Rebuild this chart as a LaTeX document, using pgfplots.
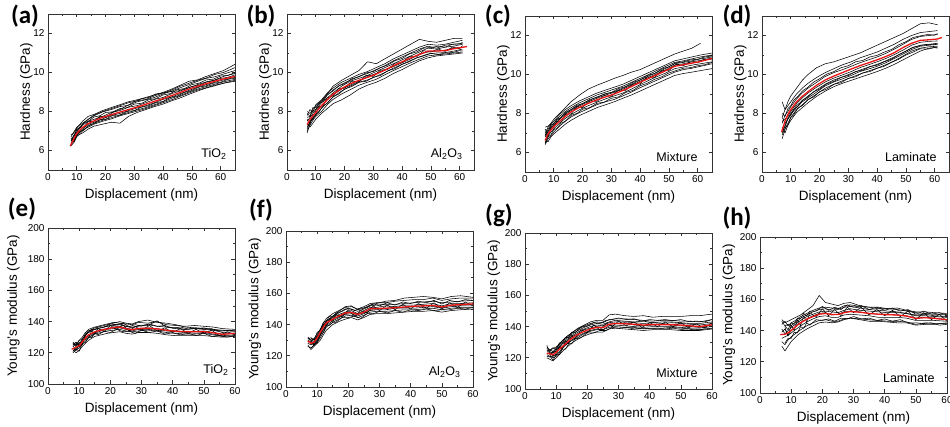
\documentclass[border=0pt]{standalone}
\usepackage{pgfplots}
\pgfplotsset{compat=1.18}
\usepackage{fontspec}
\setmainfont{Liberation Sans}
\newfontfamily\panelfont{Carlito}
\definecolor{meanred}{RGB}{235,20,20}
\tikzset{blk/.style={black, line width=0.55pt, line join=round},
  mean/.style={meanred, line width=1.3pt, line join=round},
  lab/.style={font=\fontsize{12.5}{13}\selectfont, anchor=south east}}
\pgfplotsset{
  base/.style={scale only axis, width=187pt, height=156pt, xmin=0,
    axis line style={line width=0.7pt, black!80},
    tick align=inside, xtick pos=both, ytick pos=both,
    xticklabel pos=lower, yticklabel pos=left,
    major tick length=3.5pt, minor tick length=2pt,
    every tick/.style={black!80, line width=0.6pt},
    xtick={0,10,...,60}, minor x tick num=1,
    /pgf/number format/assume math mode=true,
    tick label style={font=\fontsize{10}{11}\selectfont},
    label style={font=\fontsize{13.5}{14}\selectfont},
    xlabel={Displacement (nm)},
    xlabel style={at={(axis description cs:0.5,-0.16)}, anchor=center},
  },
  hard/.style={base, xmax=65, ymin=5, ymax=13, ytick={6,8,10,12},
    minor y tick num=1, ylabel={Hardness (GPa)},
    ylabel style={at={(axis description cs:-0.115,0.5)}, anchor=center}},
  mod/.style={base, xmax=60, ymin=100, ymax=200, ytick={100,120,...,200},
    minor y tick num=1, ylabel={Young's modulus (GPa)},
    ylabel style={at={(axis description cs:-0.166,0.5)}, anchor=center}},
}
\begin{document}
\begin{tikzpicture}
\useasboundingbox (0,0) rectangle (950pt,427pt);
% (a)
\begin{axis}[hard, at={(48pt,257pt)}, anchor=south west]
\addplot[blk] coordinates {(8,6.8)(9,6.9)(10,7.15)(12,7.5)(14,7.75)(16,7.85)(19,8.05)(22,8.2)(25,8.35)(28,8.5)(31,8.6)(34,8.72)(37,8.85)(40,8.98)(43,9.15)(46,9.35)(49,9.55)(52,9.62)(55,9.8)(58,9.95)(61,10.1)(65,10.42)};
\addplot[blk] coordinates {(8,6.6)(9,6.75)(10,7.05)(12,7.35)(14,7.6)(16,7.78)(19,7.98)(22,8.1)(25,8.25)(28,8.32)(31,8.5)(34,8.6)(37,8.72)(40,8.9)(43,9.05)(46,9.22)(49,9.38)(52,9.55)(55,9.7)(58,9.78)(61,9.92)(65,10.1)};
\addplot[blk] coordinates {(8,6.45)(9,6.8)(10,6.95)(12,7.3)(14,7.5)(16,7.6)(19,7.75)(22,7.95)(25,8.05)(28,8.22)(31,8.3)(34,8.45)(37,8.62)(40,8.72)(43,8.92)(46,9.05)(49,9.22)(52,9.38)(55,9.52)(58,9.62)(61,9.8)(65,9.95)};
\addplot[blk] coordinates {(8,6.3)(9,6.5)(10,6.8)(12,7.1)(14,7.35)(16,7.45)(19,7.62)(22,7.8)(25,7.9)(28,8.05)(31,8.18)(34,8.3)(37,8.45)(40,8.62)(43,8.75)(46,8.92)(49,9.08)(52,9.25)(55,9.38)(58,9.5)(61,9.62)(65,9.75)};
\addplot[blk] coordinates {(8,6.25)(9,6.4)(10,6.7)(12,7.0)(14,7.25)(16,7.4)(19,7.55)(22,7.68)(25,7.82)(28,7.95)(31,8.08)(34,8.2)(37,8.35)(40,8.5)(43,8.68)(46,8.82)(49,9.0)(52,9.15)(55,9.28)(58,9.4)(61,9.52)(65,9.65)};
\addplot[blk] coordinates {(8,6.5)(9,6.6)(10,6.75)(12,6.9)(14,7.1)(16,7.25)(19,7.35)(22,7.45)(25,7.4)(28,7.75)(31,7.95)(34,8.1)(37,8.25)(40,8.38)(43,8.55)(46,8.7)(49,8.88)(52,9.05)(55,9.2)(58,9.32)(61,9.45)(65,9.55)};
\addplot[blk] coordinates {(8,6.35)(9,6.55)(10,6.9)(12,7.05)(14,7.2)(16,7.35)(19,7.5)(22,7.62)(25,7.78)(28,7.9)(31,8.02)(34,8.15)(37,8.3)(40,8.45)(43,8.6)(46,8.78)(49,8.95)(52,9.1)(55,9.22)(58,9.35)(61,9.45)(65,9.6)};
\addplot[blk] coordinates {(8,6.7)(9,6.95)(10,7.2)(12,7.4)(14,7.6)(16,7.82)(19,8.0)(22,8.15)(25,8.3)(28,8.45)(31,8.55)(34,8.62)(37,8.8)(40,8.95)(43,9.1)(46,9.3)(49,9.45)(52,9.6)(55,9.72)(58,9.9)(61,10.0)(65,10.25)};
\addplot[blk] coordinates {(8,6.5)(9,6.7)(10,7.1)(11,7.15)(12.5,7.42)(14,7.5)(16,7.72)(18,7.78)(20,7.95)(22.5,7.98)(25,8.15)(27.5,8.2)(30,8.38)(32.5,8.42)(35,8.6)(37.5,8.66)(40,8.85)(42.5,8.92)(45,9.12)(47.5,9.18)(50,9.38)(52.5,9.45)(55,9.62)(57.5,9.66)(60,9.82)(62.5,9.85)(65,10.0)};
\addplot[blk] coordinates {(8,6.4)(9,6.45)(10,6.8)(11,6.95)(12.5,7.05)(14,7.3)(16,7.38)(18,7.58)(20,7.6)(22.5,7.8)(25,7.82)(27.5,8.0)(30,8.05)(32.5,8.22)(35,8.3)(37.5,8.45)(40,8.52)(42.5,8.72)(45,8.8)(47.5,8.98)(50,9.08)(52.5,9.25)(55,9.32)(57.5,9.45)(60,9.5)(62.5,9.65)(65,9.7)};
\addplot[blk] coordinates {(8,6.6)(9,6.5)(10,6.95)(11,7.2)(12.5,7.2)(14,7.48)(16,7.5)(18,7.75)(20,7.7)(22.5,7.95)(25,8.1)(27.5,8.3)(30,8.5)(32.5,8.65)(35,8.72)(37.5,8.9)(40,8.95)(42.5,9.02)(45,9.05)(47.5,9.15)(50,9.28)(52.5,9.35)(55,9.5)(57.5,9.58)(60,9.7)(62.5,9.75)(65,9.88)};
\addplot[mean] coordinates {(7.7,6.22)(9,6.6)(10,6.88)(12,7.18)(14,7.38)(16,7.52)(19,7.7)(22,7.84)(25,7.97)(28,8.1)(31,8.23)(34,8.37)(37,8.52)(40,8.66)(43,8.82)(46,8.98)(49,9.15)(52,9.3)(55,9.43)(58,9.55)(61,9.67)(65,9.8)};
\node[lab] at (rel axis cs:1,0) [xshift=-5pt, yshift=7pt] {TiO\textsubscript{2}};
\end{axis}
% (b)
\begin{axis}[hard, at={(287pt,257pt)}, anchor=south west]
\addplot[blk] coordinates {(7,8.0)(8,7.9)(9,8.1)(10,8.3)(12,8.55)(14,8.9)(16,9.3)(19,9.6)(22,9.85)(25,10.1)(28,10.55)(31,10.45)(34,10.7)(37,10.95)(40,11.2)(43,11.45)(46,11.7)(49,11.6)(52,11.55)(55,11.65)(58,11.75)(61,11.75)};
\addplot[blk] coordinates {(7,7.8)(8,8.1)(9,7.95)(10,8.35)(12,8.6)(14,8.95)(16,9.2)(19,9.5)(22,9.7)(25,9.9)(28,10.05)(31,10.25)(34,10.45)(37,10.7)(40,10.9)(43,11.1)(46,11.3)(49,11.45)(52,11.4)(55,11.45)(58,11.55)(61,11.65)};
\addplot[blk] coordinates {(7,7.5)(8,7.7)(9,7.9)(10,8.1)(12,8.45)(14,8.7)(16,8.95)(19,9.3)(22,9.55)(25,9.7)(28,9.85)(31,10.05)(34,10.25)(37,10.45)(40,10.65)(43,10.85)(46,11.05)(49,11.25)(52,11.2)(55,11.3)(58,11.35)(61,11.45)};
\addplot[blk] coordinates {(7,7.2)(8,7.5)(9,7.65)(10,7.85)(12,8.15)(14,8.45)(16,8.75)(19,9.05)(22,9.3)(25,9.5)(28,9.62)(31,9.8)(34,10.0)(37,10.22)(40,10.42)(43,10.62)(46,10.8)(49,10.95)(52,11.0)(55,11.02)(58,11.1)(61,11.2)};
\addplot[blk] coordinates {(7,7.0)(8,7.3)(9,7.55)(10,7.75)(12,8.0)(14,8.35)(16,8.62)(19,8.9)(22,9.12)(25,9.35)(28,9.5)(31,9.65)(34,9.88)(37,10.1)(40,10.3)(43,10.5)(46,10.68)(49,10.85)(52,10.9)(55,10.95)(58,11.0)(61,11.05)};
\addplot[blk] coordinates {(7,7.4)(8,7.2)(9,7.4)(10,7.6)(12,7.9)(14,8.15)(16,8.4)(19,8.6)(22,8.85)(25,9.15)(28,9.35)(31,9.5)(34,9.7)(37,9.95)(40,10.15)(43,10.38)(46,10.6)(49,10.75)(52,10.85)(55,10.9)(58,10.95)(61,11.0)};
\addplot[blk] coordinates {(7,6.9)(8,7.4)(9,7.7)(10,8.05)(12,8.3)(14,8.6)(16,8.85)(19,9.15)(22,9.35)(25,9.55)(28,9.8)(31,9.95)(34,10.15)(37,10.3)(40,10.5)(43,10.7)(46,10.95)(49,11.05)(52,11.1)(55,11.15)(58,11.25)(61,11.3)};
\addplot[blk] coordinates {(7,7.9)(8,7.75)(9,8.2)(10,8.2)(12,8.5)(14,8.85)(16,9.1)(19,9.4)(22,9.6)(25,9.8)(28,9.95)(31,10.15)(34,10.35)(37,10.6)(40,10.8)(43,11.0)(46,11.2)(49,11.35)(52,11.25)(55,11.4)(58,11.45)(61,11.5)};
\addplot[blk] coordinates {(7,7.7)(8,7.75)(9,8.05)(10,8.1)(11,8.4)(12.5,8.5)(14,8.85)(16,9.05)(18,9.32)(20,9.42)(22.5,9.68)(25,9.78)(27.5,9.98)(30,10.05)(32.5,10.25)(35,10.38)(37.5,10.6)(40,10.72)(42.5,10.95)(45,11.05)(47.5,11.25)(50,11.28)(52.5,11.35)(55,11.3)(57.5,11.45)(60,11.45)(61,11.55)};
\addplot[blk] coordinates {(7,7.1)(8,7.5)(9,7.6)(10,7.85)(11,7.95)(12.5,8.3)(14,8.42)(16,8.75)(18,8.9)(20,9.15)(22.5,9.28)(25,9.5)(27.5,9.55)(30,9.75)(32.5,9.85)(35,10.08)(37.5,10.2)(40,10.42)(42.5,10.55)(45,10.75)(47.5,10.85)(50,10.98)(52.5,10.92)(55,11.0)(57.5,11.02)(60,11.12)(61,11.1)};
\addplot[blk] coordinates {(7,7.6)(8,7.35)(9,7.85)(10,7.8)(11,8.25)(12.5,8.3)(14,8.7)(16,8.8)(18,9.18)(20,9.2)(22.5,9.55)(25,9.52)(27.5,9.85)(30,9.8)(32.5,10.12)(35,10.15)(37.5,10.48)(40,10.5)(42.5,10.82)(45,10.8)(47.5,11.12)(50,11.05)(52.5,11.2)(55,11.08)(57.5,11.3)(60,11.22)(61,11.38)};
\addplot[mean] coordinates {(7,7.33)(8,7.6)(9,7.78)(10,7.95)(12,8.3)(14,8.6)(16,8.88)(19,9.18)(22,9.42)(25,9.6)(28,9.75)(31,9.92)(34,10.12)(37,10.35)(40,10.55)(43,10.75)(46,10.92)(49,11.1)(52,11.1)(55,11.12)(58,11.22)(62.5,11.33)};
\node[lab] at (rel axis cs:1,0) [xshift=-8pt, yshift=7pt] {Al\textsubscript{2}O\textsubscript{3}};
\end{axis}
% (c)
\begin{axis}[hard, at={(525pt,255pt)}, anchor=south west]
\addplot[blk] coordinates {(7,7.3)(8,7.35)(9,7.5)(10,7.7)(12,8.0)(14,8.3)(16,8.6)(19,8.95)(22,9.25)(25,9.45)(28,9.62)(31,9.8)(34,9.95)(37,10.12)(40,10.25)(43,10.45)(46,10.65)(49,10.85)(52,11.05)(55,11.2)(58,11.35)(61,11.6)};
\addplot[blk] coordinates {(7,7.0)(8,7.3)(9,7.45)(10,7.6)(12,7.95)(14,8.2)(16,8.4)(19,8.65)(22,8.85)(25,9.05)(28,9.2)(31,9.35)(34,9.5)(37,9.7)(40,9.9)(43,10.1)(46,10.3)(49,10.5)(52,10.7)(55,10.8)(58,10.9)(61,11.0)(65,11.1)};
\addplot[blk] coordinates {(7,6.8)(8,7.1)(9,7.3)(10,7.5)(12,7.75)(14,8.0)(16,8.2)(19,8.45)(22,8.65)(25,8.85)(28,9.0)(31,9.12)(34,9.3)(37,9.5)(40,9.72)(43,9.92)(46,10.12)(49,10.32)(52,10.55)(55,10.62)(58,10.7)(61,10.8)(65,10.9)};
\addplot[blk] coordinates {(7,6.5)(8,6.85)(9,7.05)(10,7.2)(12,7.5)(14,7.75)(16,7.95)(19,8.2)(22,8.4)(25,8.58)(28,8.75)(31,8.9)(34,9.05)(37,9.25)(40,9.48)(43,9.7)(46,9.9)(49,10.08)(52,10.3)(55,10.38)(58,10.48)(61,10.55)(65,10.65)};
\addplot[blk] coordinates {(7,6.4)(8,6.7)(9,6.85)(10,7.05)(12,7.35)(14,7.6)(16,7.82)(19,8.05)(22,8.25)(25,8.45)(28,8.6)(31,8.72)(34,8.9)(37,9.1)(40,9.32)(43,9.52)(46,9.72)(49,9.92)(52,10.12)(55,10.25)(58,10.32)(61,10.42)(65,10.55)};
\addplot[blk] coordinates {(7,6.6)(8,6.55)(9,6.8)(10,6.95)(12,7.2)(14,7.45)(16,7.65)(19,7.9)(22,8.1)(25,8.3)(28,8.45)(31,8.6)(34,8.78)(37,8.95)(40,9.15)(43,9.35)(46,9.55)(49,9.75)(52,9.95)(55,10.05)(58,10.12)(61,10.2)(65,10.3)};
\addplot[blk] coordinates {(7,7.2)(8,6.9)(9,7.25)(10,7.4)(12,7.7)(14,7.95)(16,8.15)(19,8.4)(22,8.6)(25,8.78)(28,8.95)(31,9.08)(34,9.25)(37,9.45)(40,9.65)(43,9.85)(46,10.05)(49,10.25)(52,10.48)(55,10.55)(58,10.65)(61,10.72)(65,10.85)};
\addplot[blk] coordinates {(7,6.9)(8,7.2)(9,7.4)(10,7.5)(12,7.85)(14,8.1)(16,8.3)(19,8.55)(22,8.75)(25,8.95)(28,9.1)(31,9.25)(34,9.4)(37,9.6)(40,9.8)(43,10.0)(46,10.22)(49,10.42)(52,10.62)(55,10.7)(58,10.8)(61,10.9)(65,11.0)};
\addplot[blk] coordinates {(7,6.9)(8,7.05)(9,7.4)(10,7.45)(11,7.7)(12.5,7.78)(14,8.05)(16,8.2)(18,8.42)(20,8.5)(22.5,8.72)(25,8.82)(27.5,9.0)(30,9.08)(32.5,9.28)(35,9.38)(37.5,9.6)(40,9.72)(42.5,9.95)(45,10.05)(47.5,10.28)(50,10.4)(52.5,10.6)(55,10.65)(57.5,10.75)(60,10.78)(62.5,10.9)(65,10.95)};
\addplot[blk] coordinates {(7,6.45)(8,6.8)(9,6.9)(10,7.18)(11,7.22)(12.5,7.5)(14,7.6)(16,7.9)(18,8.0)(20,8.22)(22.5,8.3)(25,8.52)(27.5,8.58)(30,8.78)(32.5,8.85)(35,9.08)(37.5,9.18)(40,9.42)(42.5,9.55)(45,9.75)(47.5,9.88)(50,10.08)(52.5,10.2)(55,10.32)(57.5,10.35)(60,10.45)(62.5,10.5)(65,10.62)};
\addplot[blk] coordinates {(7,6.9)(8,6.8)(9,7.25)(10,7.25)(11,7.6)(12.5,7.55)(14,7.95)(16,7.98)(18,8.35)(20,8.3)(22.5,8.65)(25,8.62)(27.5,8.92)(30,8.88)(32.5,9.2)(35,9.18)(37.5,9.52)(40,9.52)(42.5,9.88)(45,9.85)(47.5,10.2)(50,10.2)(52.5,10.52)(55,10.45)(57.5,10.65)(60,10.6)(62.5,10.8)(65,10.75)};
\addplot[mean] coordinates {(7,6.62)(8,6.95)(9,7.15)(10,7.33)(12,7.6)(14,7.85)(16,8.08)(19,8.32)(22,8.52)(25,8.7)(28,8.85)(31,9.0)(34,9.18)(37,9.38)(40,9.6)(43,9.8)(46,10.0)(49,10.2)(52,10.42)(55,10.5)(58,10.58)(61,10.67)(65,10.82)};
\node[lab] at (rel axis cs:1,0) [xshift=-11pt, yshift=7pt] {Mixture};
\end{axis}
% (d)
\begin{axis}[hard, at={(762pt,255pt)}, anchor=south west]
\addplot[blk] coordinates {(7,8.6)(8,8.2)(9,8.6)(10,8.9)(12,9.3)(14,9.7)(16,10.0)(19,10.35)(22,10.55)(25,10.65)(28,10.8)(31,10.95)(34,11.1)(37,11.3)(40,11.5)(43,11.7)(46,11.9)(49,12.1)(52,12.35)(55,12.6)(58,12.65)(61,12.55)};
\addplot[blk] coordinates {(7,7.8)(8,8.2)(9,8.4)(10,8.6)(12,9.0)(14,9.3)(16,9.55)(19,9.85)(22,10.1)(25,10.3)(28,10.5)(31,10.65)(34,10.85)(37,11.0)(40,11.15)(43,11.35)(46,11.55)(49,11.8)(52,12.0)(55,12.15)(58,12.2)(61,12.25)};
\addplot[blk] coordinates {(7,7.5)(8,7.9)(9,8.1)(10,8.35)(12,8.75)(14,9.05)(16,9.3)(19,9.6)(22,9.9)(25,10.1)(28,10.25)(31,10.42)(34,10.6)(37,10.75)(40,10.9)(43,11.08)(46,11.3)(49,11.55)(52,11.8)(55,11.95)(58,12.0)(61,12.05)};
\addplot[blk] coordinates {(7,7.0)(8,7.4)(9,7.75)(10,8.0)(12,8.4)(14,8.65)(16,8.9)(19,9.22)(22,9.5)(25,9.72)(28,9.88)(31,10.05)(34,10.22)(37,10.38)(40,10.52)(43,10.7)(46,10.9)(49,11.12)(52,11.35)(55,11.5)(58,11.55)(61,11.6)};
\addplot[blk] coordinates {(7,6.7)(8,7.2)(9,7.5)(10,7.8)(12,8.2)(14,8.45)(16,8.7)(19,9.0)(22,9.3)(25,9.5)(28,9.68)(31,9.85)(34,10.02)(37,10.18)(40,10.32)(43,10.5)(46,10.7)(49,10.95)(52,11.2)(55,11.35)(58,11.42)(61,11.45)};
\addplot[blk] coordinates {(7,7.3)(8,7.0)(9,7.4)(10,7.65)(12,8.05)(14,8.3)(16,8.55)(19,8.88)(22,9.15)(25,9.38)(28,9.55)(31,9.7)(34,9.85)(37,10.0)(40,10.15)(43,10.32)(46,10.52)(49,10.75)(52,10.98)(55,11.2)(58,11.35)(61,11.4)};
\addplot[blk] coordinates {(7,7.8)(8,7.5)(9,7.7)(10,7.95)(12,8.3)(14,8.6)(16,8.8)(19,9.1)(22,9.42)(25,9.62)(28,9.78)(31,9.95)(34,10.15)(37,10.28)(40,10.42)(43,10.6)(46,10.82)(49,11.05)(52,11.28)(55,11.45)(58,11.5)(61,11.55)};
\addplot[blk] coordinates {(7,7.6)(8,7.7)(9,7.85)(10,8.1)(12,8.5)(14,8.8)(16,9.05)(19,9.35)(22,9.62)(25,9.82)(28,9.98)(31,10.15)(34,10.35)(37,10.5)(40,10.65)(43,10.82)(46,11.02)(49,11.25)(52,11.5)(55,11.65)(58,11.7)(61,11.72)};
\addplot[blk] coordinates {(7,7.2)(8,7.3)(9,7.75)(10,7.9)(11,8.2)(12.5,8.38)(14,8.68)(16,8.85)(18,9.12)(20,9.25)(22.5,9.52)(25,9.65)(27.5,9.85)(30,9.95)(32.5,10.15)(35,10.22)(37.5,10.4)(40,10.48)(42.5,10.65)(45,10.78)(47.5,11.02)(50,11.2)(52.5,11.4)(55,11.48)(57.5,11.55)(60,11.52)(61,11.58)};
\addplot[blk] coordinates {(7,8.0)(8,7.85)(9,8.25)(10,8.4)(11,8.68)(12.5,8.88)(14,9.15)(16,9.35)(18,9.62)(20,9.78)(22.5,10.02)(25,10.15)(27.5,10.35)(30,10.45)(32.5,10.65)(35,10.72)(37.5,10.9)(40,10.98)(42.5,11.15)(45,11.28)(47.5,11.52)(50,11.68)(52.5,11.9)(55,11.98)(57.5,12.05)(60,12.02)(61,12.1)};
\addplot[blk] coordinates {(7,6.9)(8,7.25)(9,7.4)(10,7.8)(11,7.92)(12.5,8.28)(14,8.4)(16,8.72)(18,8.85)(20,9.12)(22.5,9.25)(25,9.5)(27.5,9.58)(30,9.8)(32.5,9.88)(35,10.08)(37.5,10.15)(40,10.32)(42.5,10.42)(45,10.62)(47.5,10.78)(50,11.0)(52.5,11.15)(55,11.32)(57.5,11.3)(60,11.38)(61,11.35)};
\addplot[mean] coordinates {(6.8,7.05)(8,7.6)(9,7.95)(10,8.2)(12,8.6)(14,8.88)(16,9.12)(19,9.45)(22,9.72)(25,9.92)(28,10.1)(31,10.28)(34,10.45)(37,10.6)(40,10.75)(43,10.92)(46,11.12)(49,11.38)(52,11.6)(55,11.75)(58,11.78)(61,11.82)(62.5,11.9)};
\node[lab] at (rel axis cs:1,0) [xshift=-9pt, yshift=7pt] {Laminate};
\end{axis}
% (e)
\begin{axis}[mod, at={(48pt,43pt)}, anchor=south west, ylabel style={at={(axis description cs:-0.185,0.5)}}]
\addplot[blk] coordinates {(8,127)(9,125)(10,128)(11,130)(12,133)(13,135)(15,136.5)(17,137.5)(19,138.5)(21,139.5)(23,139)(25,138.5)(27,138)(29,139.5)(32,139)(35,140)(38,138)(41,137.5)(44,137)(47,137.5)(50,137)(53,136.5)(56,135.5)(60,135)};
\addplot[blk] coordinates {(8,124)(9,126)(10,125)(11,129)(12,131)(13,133)(15,135)(17,136)(19,137)(21,137.5)(23,138)(25,137)(27,136.5)(29,137)(32,137.5)(35,140.5)(38,136.5)(41,135.5)(44,135)(47,135.5)(50,135)(53,134.5)(56,134)(60,134)};
\addplot[blk] coordinates {(8,121)(9,123)(10,124)(11,126)(12,130)(13,131)(15,133)(17,135)(19,135.5)(21,136.5)(23,137)(25,135.8)(27,135)(29,135.5)(32,136)(35,135.5)(38,134.5)(41,134)(44,133.5)(47,133.5)(50,134)(53,133)(56,132)(60,132.5)};
\addplot[blk] coordinates {(8,120)(9,122)(10,123)(11,125.5)(12,127.5)(13,129.5)(15,132)(17,133)(19,134)(21,134.5)(23,135)(25,134)(27,133.5)(29,134)(32,134.5)(35,134)(38,133)(41,132.5)(44,132)(47,132)(50,132.5)(53,131.5)(56,130.5)(60,131)};
\addplot[blk] coordinates {(8,122)(9,120)(10,121.5)(11,124)(12,126)(13,128)(15,130.5)(17,131.5)(19,132.5)(21,133)(23,133.5)(25,132.5)(27,132)(29,133)(32,133)(35,132.5)(38,131.5)(41,131)(44,131)(47,131)(50,131)(53,130.5)(56,130)(60,130.5)};
\addplot[blk] coordinates {(8,126)(9,124)(10,126.5)(11,127)(12,131)(13,134)(15,135)(17,136)(19,137)(21,138)(23,138.5)(25,137)(27,136)(29,137.5)(32,138)(35,137)(38,136.5)(41,136)(44,135)(47,135.5)(50,136)(53,134.5)(56,133)(60,133.5)};
\addplot[blk] coordinates {(8,123)(9,121.5)(10,125)(11,127.5)(12,128.5)(13,130)(15,132.5)(17,134)(19,135)(21,135.5)(23,136)(25,135)(27,134)(29,135)(32,135)(35,134.5)(38,134)(41,133.5)(44,133)(47,132.5)(50,133)(53,132)(56,131)(60,131.5)};
\addplot[blk] coordinates {(8,125)(9,127)(10,124)(11,128)(12,132)(13,134)(15,136)(17,137)(19,138)(21,139)(23,140)(25,139)(27,138.5)(29,140)(32,141)(35,139.5)(38,139)(41,138)(44,136.5)(47,136)(50,135.5)(53,135)(56,134.5)(60,134)};
\addplot[blk] coordinates {(8,126)(9,124.5)(10,128)(11,128.5)(12,132)(13,133)(14,135)(15,134.8)(16,136.5)(18,136.5)(20,138.5)(22,138)(24,139)(26,136.8)(28,138)(30,137.2)(32.5,138.5)(35,137)(37.5,137.5)(40,135.8)(42.5,136.5)(45,135.2)(47.5,136)(50,135.2)(52.5,135.5)(55,133.8)(57.5,134.5)(60,134)};
\addplot[blk] coordinates {(8,121)(9,122.5)(10,121)(11,126)(12,126.5)(13,130)(14,129.8)(15,132.5)(16,131.5)(18,133.8)(20,133)(22,135)(24,133.5)(26,133.8)(28,132.5)(30,134.5)(32.5,133)(35,134)(37.5,132)(40,132.8)(42.5,131.5)(45,132.5)(47.5,131)(50,132.5)(52.5,130.5)(55,131)(57.5,130)(60,131)};
\addplot[blk] coordinates {(8,124.5)(9,121.5)(10,126.5)(11,125)(12,131)(13,130)(14,134)(15,132)(16,135.5)(18,133.5)(20,137.5)(22,135)(24,138)(26,134)(28,136.8)(30,134.5)(32.5,137.5)(35,134)(37.5,136)(40,133)(42.5,135.5)(45,132.5)(47.5,135)(50,132.5)(52.5,134.5)(55,131)(57.5,133.5)(60,131.5)};
\addplot[mean] coordinates {(7.6,122.3)(9,123.5)(10,124.5)(11,127)(12,129.5)(13,131.5)(15,133.5)(17,134.5)(19,135.3)(21,136.2)(23,136.5)(25,135.5)(27,134.8)(29,135.6)(32,135.8)(35,135.3)(38,134.5)(41,133.8)(44,133.6)(47,133.5)(50,133.6)(53,132.8)(56,131.8)(60,132.5)};
\node[lab] at (rel axis cs:1,0) [xshift=-3pt, yshift=5pt] {TiO\textsubscript{2}};
\end{axis}
% (f)
\begin{axis}[mod, at={(286pt,40pt)}, anchor=south west]
\addplot[blk] coordinates {(7,132)(8,130)(9,131)(10,134)(11,137)(12,141)(13,144)(15,147)(17,149)(19,151)(21,151.5)(23,150)(25,151.5)(27,153.5)(29,154)(32,154)(35,155)(38,155.5)(41,156)(44,156)(47,157)(50,155.5)(53,156.5)(56,157)(60,157)};
\addplot[blk] coordinates {(7,131)(8,131.5)(9,130)(10,133)(11,136.5)(12,140)(13,142.5)(15,145.5)(17,147.5)(19,150)(21,150)(23,148.5)(25,150)(27,152)(29,152.5)(32,153)(35,153)(38,153.5)(41,154)(44,154.5)(47,155)(50,154)(53,154.5)(56,155)(60,155.5)};
\addplot[blk] coordinates {(7,128)(8,127)(9,128)(10,130)(11,134)(12,137)(13,140.5)(15,143.5)(17,145)(19,147)(21,148)(23,146.5)(25,147.5)(27,150)(29,150)(32,150.5)(35,151)(38,151)(41,151.5)(44,152)(47,152)(50,151)(53,152.5)(56,152.5)(60,153)};
\addplot[blk] coordinates {(7,126)(8,125)(9,127)(10,129)(11,131.5)(12,135)(13,138.5)(15,141.5)(17,143.5)(19,145.5)(21,146)(23,144.5)(25,146)(27,148)(29,148.5)(32,148.5)(35,149)(38,149.5)(41,149.5)(44,150)(47,150.5)(50,149.5)(53,150.5)(56,151)(60,151)};
\addplot[blk] coordinates {(7,127)(8,124)(9,126)(10,128)(11,130)(12,133.5)(13,136.5)(15,140)(17,142)(19,143.5)(21,144.5)(23,143)(25,144.5)(27,146.5)(29,147)(32,147)(35,147.5)(38,148)(41,148.5)(44,148.5)(47,149)(50,148)(53,149)(56,149.5)(60,150)};
\addplot[blk] coordinates {(7,130)(8,129)(9,131)(10,131)(11,135)(12,139)(13,141)(15,144.5)(17,146.5)(19,148)(21,149)(23,147)(25,149)(27,151)(29,151)(32,152)(35,151.5)(38,152.5)(41,152.5)(44,153)(47,153.5)(50,152)(53,153.5)(56,153.5)(60,154)};
\addplot[blk] coordinates {(7,129)(8,128.5)(9,127)(10,129.5)(11,133)(12,136.5)(13,139.5)(15,142.5)(17,144.5)(19,146.5)(21,147)(23,145.5)(25,147)(27,149)(29,149.5)(32,149.5)(35,150.5)(38,150.5)(41,150.5)(44,151)(47,151.5)(50,150.5)(53,151.5)(56,152)(60,152)};
\addplot[blk] coordinates {(7,131)(8,130)(9,129)(10,132)(11,135.5)(12,139.5)(13,142)(15,145)(17,148.5)(19,151.5)(21,152)(23,149.5)(25,150.5)(27,152.5)(29,153.5)(32,155)(35,155.5)(38,157)(41,157.5)(44,158)(47,157.5)(50,156.5)(53,158)(56,158.5)(60,157.5)};
\addplot[blk] coordinates {(8,131.5)(9,130)(10,135)(11,136.5)(12,141.5)(13,142.5)(14,145.5)(15,145)(16,147.5)(18,148.5)(20,150.5)(22,149)(24,150.5)(26,151)(28,153.5)(30,152)(32.5,154)(35,152.5)(37.5,154.5)(40,153.5)(42.5,155)(45,154)(47.5,155.5)(50,153.2)(52.5,155.5)(55,154.5)(57.5,156)(60,155.5)};
\addplot[blk] coordinates {(8,125)(9,127)(10,128)(11,133.5)(12,135)(13,139.5)(14,139.5)(15,141.5)(16,141.5)(18,144.5)(20,144.5)(22,145.5)(24,144)(26,147)(28,147)(30,148.5)(32.5,147.5)(35,149)(37.5,148)(40,149.5)(42.5,149)(45,150)(47.5,149)(50,149.5)(52.5,149.5)(55,150.5)(57.5,150)(60,151)};
\addplot[blk] coordinates {(8,130)(9,126.5)(10,133)(11,133.5)(12,140)(13,139.5)(14,144)(15,142)(16,146.5)(18,145)(20,149.5)(22,145.5)(24,149)(26,147.5)(28,152)(30,149)(32.5,152.5)(35,149.5)(37.5,153)(40,150)(42.5,153.5)(45,150.5)(47.5,154)(50,150)(52.5,154)(55,151)(57.5,154.5)(60,152)};
\addplot[mean] coordinates {(7,129.5)(8,128)(9,128.8)(10,131.5)(11,135)(12,138.5)(13,141.2)(15,143.5)(17,145.5)(19,147.5)(21,147.8)(23,146.5)(25,148)(27,150.2)(29,150.3)(32,150.5)(35,150.8)(38,151.3)(41,151.8)(44,152)(47,152.3)(50,151.3)(53,152.5)(56,152.8)(60,153.3)};
\node[lab] at (rel axis cs:1,0) [xshift=-9pt, yshift=6pt] {Al\textsubscript{2}O\textsubscript{3}};
\end{axis}
% (g)
\begin{axis}[mod, at={(525pt,38pt)}, anchor=south west]
\addplot[blk] coordinates {(7,127)(8,125)(9,124)(10,126)(11,129)(12,131)(13,133)(15,136)(17,139)(19,141)(21,143)(23,144)(25,144)(27,147.5)(29,148)(32,147)(35,146.5)(38,147)(41,146)(44,146.5)(47,146.5)(50,146.5)(53,147)(56,147)(60,148)};
\addplot[blk] coordinates {(7,126)(8,124.5)(9,126)(10,127)(11,128.5)(12,131)(13,133)(15,136)(17,138.5)(19,140.5)(21,142)(23,143)(25,142.5)(27,144.5)(29,145)(32,145)(35,144.5)(38,144)(41,143.5)(44,144)(47,144)(50,143.5)(53,143.5)(56,143)(60,144.5)};
\addplot[blk] coordinates {(7,124)(8,123.5)(9,121)(10,125)(11,127)(12,129)(13,131)(15,134)(17,136.5)(19,138.5)(21,140)(23,141)(25,140.5)(27,142.5)(29,143)(32,143)(35,142.5)(38,142)(41,142.5)(44,142)(47,142.5)(50,142)(53,141.5)(56,141)(60,142)};
\addplot[blk] coordinates {(7,121)(8,120.5)(9,121)(10,122)(11,124)(12,126)(13,128)(15,131.5)(17,134)(19,136)(21,137.5)(23,138.5)(25,138)(27,140.5)(29,141)(32,140.5)(35,140)(38,139.5)(41,140)(44,140)(47,140)(50,139.5)(53,139)(56,139)(60,140)};
\addplot[blk] coordinates {(7,120)(8,119)(9,118)(10,120)(11,122)(12,124)(13,126)(15,129.5)(17,132)(19,134)(21,135.5)(23,136.5)(25,136.5)(27,138.5)(29,139)(32,138.5)(35,138)(38,137.5)(41,138)(44,138)(47,138)(50,137.5)(53,137.5)(56,137.5)(60,138.5)};
\addplot[blk] coordinates {(7,128)(8,122)(9,124)(10,124)(11,126.5)(12,129)(13,130)(15,133.5)(17,135.5)(19,138)(21,139)(23,140)(25,139.5)(27,141.5)(29,142)(32,142.5)(35,141)(38,140.5)(41,141)(44,141.5)(47,141)(50,140.5)(53,140)(56,139.5)(60,141)};
\addplot[blk] coordinates {(7,122)(8,121)(9,120)(10,121)(11,123)(12,126.5)(13,128.5)(15,131)(17,133)(19,135.5)(21,137)(23,138)(25,138)(27,139.5)(29,140)(32,139.5)(35,139.5)(38,138.5)(41,139)(44,139)(47,139.5)(50,139)(53,138.5)(56,138)(60,139)};
\addplot[blk] coordinates {(7,125)(8,124)(9,123)(10,126)(11,128)(12,130)(13,132)(15,135)(17,137.5)(19,139.5)(21,141)(23,142)(25,141.5)(27,143)(29,144)(32,143.5)(35,143)(38,143.5)(41,142.5)(44,143)(47,143)(50,142.5)(53,142)(56,142)(60,143)};
\addplot[blk] coordinates {(8,125)(9,126.5)(10,125)(11,129.5)(12,129.5)(13,133)(14,133)(15,136.5)(16,136)(18,139.5)(20,140.5)(22,142.5)(24,142)(26,144)(28,144.5)(30,145.5)(32.5,144.5)(35,145)(37.5,143.5)(40,144.5)(42.5,144)(45,144.5)(47.5,143.8)(50,144.5)(52.5,143.2)(55,143.5)(57.5,143)(60,144.5)};
\addplot[blk] coordinates {(8,121)(9,118.5)(10,122)(11,122)(12,125.5)(13,125.5)(14,129)(15,129)(16,132)(18,133)(20,136)(22,136)(24,137.5)(26,137.5)(28,139.5)(30,139)(32.5,139.5)(35,138.5)(37.5,139)(40,138.5)(42.5,139)(45,138.5)(47.5,139)(50,138.2)(52.5,138.5)(55,137.5)(57.5,138.5)(60,138.5)};
\addplot[blk] coordinates {(8,120.5)(9,124)(10,121.5)(11,127.5)(12,125.5)(13,131)(14,129)(15,134.5)(16,132)(18,138)(20,136)(22,141)(24,138)(26,142)(28,140)(30,143.5)(32.5,140.5)(35,143)(37.5,139.5)(40,142.5)(42.5,140)(45,143)(47.5,139.8)(50,142.5)(52.5,139.2)(55,141.8)(57.5,139)(60,142.5)};
\addplot[mean] coordinates {(7,123)(8,122.5)(9,122)(10,123.5)(11,125.5)(12,127.2)(13,129)(15,132.5)(17,135)(19,137)(21,138.5)(23,139.5)(25,139.3)(27,141.5)(29,142)(32,141.8)(35,141.5)(38,141)(41,141.3)(44,141.2)(47,141.2)(50,141)(53,140.5)(56,140)(60,141.2)};
\node[lab] at (rel axis cs:1,0) [xshift=-11pt, yshift=8pt] {Mixture};
\end{axis}
% (h)
\begin{axis}[mod, at={(760pt,34pt)}, anchor=south west]
\addplot[blk] coordinates {(7,147)(8,145)(9,146)(10,147)(11,148)(12,149)(13,150)(15,153)(17,156)(19,162.5)(21,158)(23,157)(25,156)(27,157.5)(29,158)(32,156)(35,155)(38,155)(41,154)(44,154.5)(47,153)(50,152)(53,152)(56,151.5)(60,151)};
\addplot[blk] coordinates {(7,144)(8,146)(9,143)(10,145)(11,146)(12,147.5)(13,149)(15,151)(17,153)(19,154.5)(21,155)(23,154.5)(25,154)(27,156)(29,156.5)(32,155.5)(35,155)(38,154)(41,154)(44,153.5)(47,152.5)(50,151.5)(53,151)(56,150.5)(60,150)};
\addplot[blk] coordinates {(7,141)(8,138)(9,140)(10,142)(11,143.5)(12,145)(13,146.5)(15,149)(17,150.5)(19,152)(21,152.5)(23,152)(25,151.5)(27,153)(29,154)(32,153)(35,152.5)(38,152)(41,151.5)(44,151.5)(47,151)(50,149.5)(53,149.5)(56,149)(60,148.5)};
\addplot[blk] coordinates {(7,135)(8,136)(9,137)(10,138.5)(11,140)(12,141.5)(13,143)(15,145.5)(17,147.5)(19,149)(21,149.5)(23,148.5)(25,148.5)(27,150)(29,150.5)(32,150)(35,149.5)(38,148.5)(41,148.5)(44,148.5)(47,148)(50,146.5)(53,146.5)(56,146.5)(60,146)};
\addplot[blk] coordinates {(7,133)(8,131)(9,134)(10,136)(11,137.5)(12,139)(13,140.5)(15,143)(17,145)(19,146.5)(21,147)(23,146)(25,146)(27,147.5)(29,148)(32,147.5)(35,147)(38,146.5)(41,146)(44,146)(47,145.5)(50,144)(53,145)(56,144.5)(60,144.5)};
\addplot[blk] coordinates {(7,130)(8,127)(9,130)(10,133)(11,135)(12,137)(13,138.5)(15,141)(17,143)(19,145)(21,145.5)(23,145)(25,145.5)(27,147)(29,148)(32,147)(35,146)(38,146)(41,145.5)(44,145)(47,145)(50,143.5)(53,144)(56,144)(60,145)};
\addplot[blk] coordinates {(7,139)(8,141)(9,137)(10,140)(11,142)(12,144)(13,145)(15,147.5)(17,149.5)(19,151)(21,151.5)(23,150)(25,150.5)(27,152)(29,152.5)(32,152)(35,151)(38,150.5)(41,150.5)(44,150)(47,149.5)(50,148)(53,148.5)(56,148)(60,147)};
\addplot[blk] coordinates {(7,146)(8,143)(9,144)(10,143)(11,145)(12,146)(13,148)(15,150)(17,152)(19,153.5)(21,154)(23,153)(25,153.5)(27,155)(29,155.5)(32,154.5)(35,153.5)(38,153)(41,152.5)(44,152)(47,151)(50,150)(53,150.5)(56,149.5)(60,149)};
\addplot[blk] coordinates {(8,143)(9,140.5)(10,145)(11,144)(12,148)(13,147.5)(14,151)(15,149.5)(16,152.5)(18,152.5)(20,155.5)(22,153)(24,155)(26,153.5)(28,156.5)(30,155)(32.5,156)(35,153.5)(37.5,155)(40,153)(42.5,154.5)(45,152.5)(47.5,153.5)(50,150.5)(52.5,152.5)(55,150.5)(57.5,151.5)(60,150)};
\addplot[blk] coordinates {(8,132)(9,135)(10,135)(11,139)(12,138.5)(13,142.5)(14,141.5)(15,145)(16,143.5)(18,147)(20,146.5)(22,147.5)(24,146)(26,148)(28,147.5)(30,149)(32.5,147.5)(35,148)(37.5,146.5)(40,147.5)(42.5,146)(45,147)(47.5,145)(50,145)(52.5,144.5)(55,145)(57.5,143.5)(60,144)};
\addplot[blk] coordinates {(8,142)(9,136.5)(10,143.5)(11,140)(12,147)(13,143)(14,149.5)(15,145.5)(16,151.5)(18,148.5)(20,154)(22,149.5)(24,153.5)(26,149.5)(28,155)(30,151.5)(32.5,155)(35,150)(37.5,153.5)(40,149.5)(42.5,153)(45,149)(47.5,152.5)(50,147)(52.5,151.5)(55,147)(57.5,150.5)(60,146)};
\addplot[mean] coordinates {(6.5,137.4)(8,137.7)(9,138.5)(10,140)(11,141.8)(12,143.5)(13,145)(15,147.3)(17,149)(19,150.5)(21,151)(23,150.3)(25,150.3)(27,151.5)(29,152.2)(32,151.8)(35,151)(38,150.5)(41,150.2)(44,150)(47,149.3)(50,147.8)(53,148.3)(56,147.8)(60,147)};
\node[lab] at (rel axis cs:1,0) [xshift=-9pt, yshift=7pt] {Laminate};
\end{axis}
% panel letters
\begin{scope}[every node/.style={font=\panelfont\bfseries\fontsize{25}{25}\selectfont}]
\node at (25pt,411pt) {(a)};
\node at (261pt,411pt) {(b)};
\node at (498pt,411pt) {(c)};
\node at (737pt,411pt) {(d)};
\node at (22pt,218pt) {(e)};
\node at (261pt,217pt) {(f)};
\node at (499pt,212pt) {(g)};
\node at (737pt,209pt) {(h)};
\end{scope}
\end{tikzpicture}
\end{document}
